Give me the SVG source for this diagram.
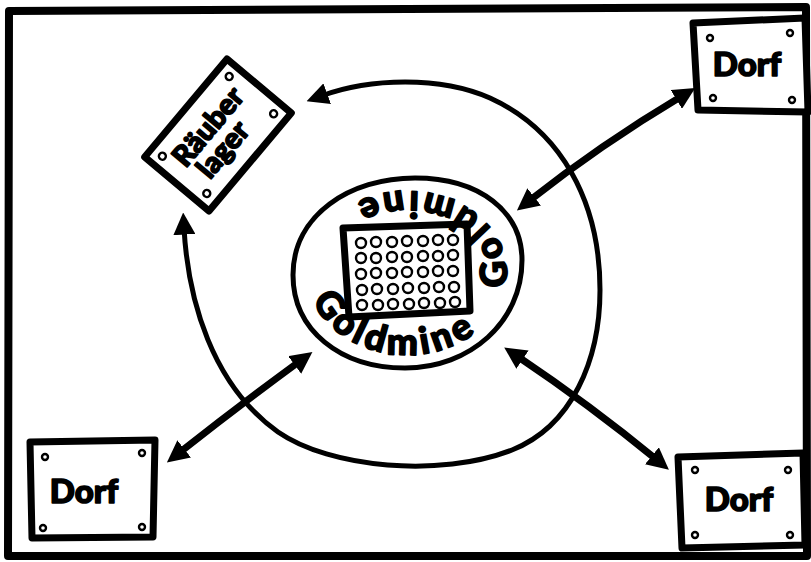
<svg xmlns="http://www.w3.org/2000/svg" width="811" height="562" viewBox="0 0 811 562">
  <style>
    .frame{fill:none;stroke:#000;stroke-width:8;stroke-linejoin:round}
    .box{fill:#fff;stroke:#000;stroke-width:7;stroke-linejoin:round}
    .screw{fill:#fff;stroke:#000;stroke-width:2.4}
    .lbl{font-family:Lato,"Liberation Sans",sans-serif;font-weight:900;fill:#000;stroke:#000;stroke-width:1.6;stroke-linejoin:round}
    .dorf{font-size:33px;text-anchor:middle}
    .arrow{fill:none;stroke:#000;stroke-width:7;stroke-linecap:round}
    .loop{fill:none;stroke:#000;stroke-width:5;stroke-linecap:round}
    .ring{fill:none;stroke:#000;stroke-width:5}
    .hole{fill:#fff;stroke:#000;stroke-width:2.4}
  </style>
  <defs>
    <marker id="ah" viewBox="0 0 10 10" refX="3" refY="5" markerWidth="22" markerHeight="22" markerUnits="userSpaceOnUse" orient="auto-start-reverse">
      <path d="M0,0 L10,5 L0,10 Z" fill="#000"/>
    </marker>
    <path id="ringpath" d="M307,273 A100,82 0 0 0 507,273 A100,82 0 0 0 307,273"/>
  </defs>
  <rect width="811" height="562" fill="#fff"/>
  <path class="frame" d="M9,11 L806,7 L807,556 L8,556 Z"/>

  <g id="connectors">
    <path class="loop" d="M184,228 C188,300 212,385 278,432 C330,468 440,478 512,450 C572,426 600,360 600,290 C600,200 560,130 490,98 C440,76 370,78 321,96" marker-start="url(#ah)" marker-end="url(#ah)"/>
    <path class="arrow" d="M529,201 Q600,145 682,96" marker-start="url(#ah)" marker-end="url(#ah)"/>
    <path class="arrow" d="M179,453 Q240,405 300,361" marker-start="url(#ah)" marker-end="url(#ah)"/>
    <path class="arrow" d="M517,356 Q590,405 657,460" marker-start="url(#ah)" marker-end="url(#ah)"/>
  </g>

  <g id="goldmine">
    <path class="ring" d="M293,275 C293,215 350,178 415,178 C480,178 522,212 522,260 C522,322 470,368 405,368 C340,368 293,330 293,275 Z"/>
    <polygon class="box" points="343,228 467,224 470,311 349,317"/>
    <g class="hole">
      <circle cx="361" cy="243" r="5"/><circle cx="376" cy="242" r="5"/><circle cx="392" cy="242" r="5"/><circle cx="407" cy="241" r="5"/><circle cx="423" cy="241" r="5"/><circle cx="438" cy="240" r="5"/><circle cx="453" cy="240" r="5"/>
      <circle cx="361" cy="258" r="5"/><circle cx="376" cy="258" r="5"/><circle cx="392" cy="257" r="5"/><circle cx="407" cy="257" r="5"/><circle cx="423" cy="256" r="5"/><circle cx="438" cy="256" r="5"/><circle cx="453" cy="255" r="5"/>
      <circle cx="361" cy="274" r="5"/><circle cx="376" cy="273" r="5"/><circle cx="392" cy="273" r="5"/><circle cx="407" cy="272" r="5"/><circle cx="423" cy="272" r="5"/><circle cx="438" cy="271" r="5"/><circle cx="453" cy="271" r="5"/>
      <circle cx="362" cy="290" r="5"/><circle cx="377" cy="289" r="5"/><circle cx="393" cy="289" r="5"/><circle cx="408" cy="288" r="5"/><circle cx="424" cy="288" r="5"/><circle cx="439" cy="287" r="5"/><circle cx="454" cy="287" r="5"/>
      <circle cx="362" cy="305" r="5"/><circle cx="378" cy="305" r="5"/><circle cx="393" cy="304" r="5"/><circle cx="409" cy="304" r="5"/><circle cx="424" cy="303" r="5"/><circle cx="440" cy="303" r="5"/><circle cx="455" cy="302" r="5"/>
    </g>
    <text class="lbl" font-size="37" letter-spacing="4"><textPath href="#ringpath" startOffset="28">Goldmine</textPath></text>
    <text class="lbl" font-size="37" letter-spacing="7"><textPath href="#ringpath" startOffset="272">Goldmine</textPath></text>
  </g>

  <g id="raeuberlager" transform="translate(218,135) rotate(-50)">
    <rect class="box" x="-64" y="-42" width="128" height="84"/>
    <circle class="screw" cx="-52" cy="-29" r="3.5"/>
    <circle class="screw" cx="52" cy="-29" r="3.5"/>
    <circle class="screw" cx="-52" cy="29" r="3.5"/>
    <circle class="screw" cx="52" cy="29" r="3.5"/>
    <text class="lbl" font-size="29" text-anchor="middle" x="0" y="-3">Räuber</text>
    <text class="lbl" font-size="29" text-anchor="middle" x="-8" y="23">lager</text>
  </g>

  <g id="dorf-top-right">
    <polygon class="box" points="693,23 805,18 808,112 698,110"/>
    <circle class="screw" cx="710" cy="38" r="3"/>
    <circle class="screw" cx="790" cy="33" r="3"/>
    <circle class="screw" cx="713" cy="98" r="3"/>
    <circle class="screw" cx="792" cy="100" r="3"/>
    <text class="lbl dorf" x="747" y="76">Dorf</text>
  </g>

  <g id="dorf-bottom-left">
    <polygon class="box" points="30,442 155,440 153,537 32,538"/>
    <circle class="screw" cx="45" cy="457" r="3"/>
    <circle class="screw" cx="142" cy="453" r="3"/>
    <circle class="screw" cx="43" cy="528" r="3"/>
    <circle class="screw" cx="142" cy="527" r="3"/>
    <text class="lbl dorf" x="84" y="503">Dorf</text>
  </g>

  <g id="dorf-bottom-right">
    <polygon class="box" points="678,457 803,453 805,545 682,548"/>
    <circle class="screw" cx="695" cy="470" r="3"/>
    <circle class="screw" cx="788" cy="470" r="3"/>
    <circle class="screw" cx="695" cy="535" r="3"/>
    <circle class="screw" cx="790" cy="535" r="3"/>
    <text class="lbl dorf" x="739" y="511">Dorf</text>
  </g>
</svg>
